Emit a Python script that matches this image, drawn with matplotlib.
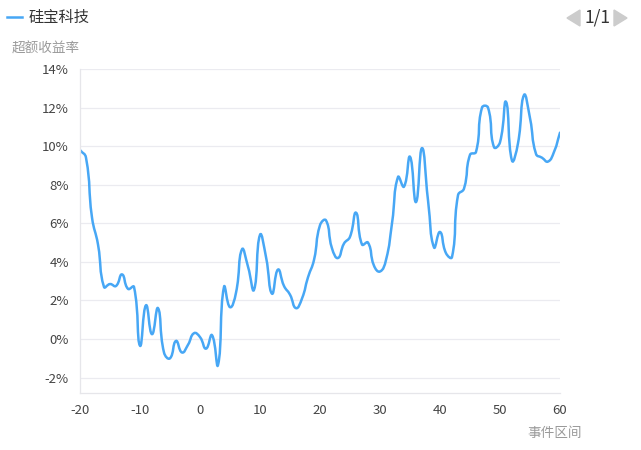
import numpy as np
import matplotlib
matplotlib.use("Agg")
import matplotlib.pyplot as plt
from matplotlib.path import Path
from matplotlib.patches import PathPatch, Polygon

plt.rcParams["font.family"] = ["Noto Sans CJK SC", "DejaVu Sans"]
plt.rcParams["axes.unicode_minus"] = False

# ── Data ─────────────────────────────────────────────────────────────────────
SERIES_NAME = "硅宝科技"
event_day = list(range(-20, 61))
excess_ret = [
    9.8, 9.4, 6.3, 4.9, 2.7, 2.85, 2.75, 3.35, 2.6, 2.7,      # -20 .. -11
    -0.35, 1.75, 0.25, 1.6, -0.7, -1.0, -0.1, -0.7, -0.3, 0.3,  # -10 .. -1
    0.1, -0.5, 0.2, -1.35, 2.7, 1.65, 2.4, 4.65, 3.75, 2.55,  # 0 .. 9
    5.4, 4.25, 2.35, 3.6, 2.75, 2.3, 1.6, 2.1, 3.2, 4.1,      # 10 .. 19
    5.9, 6.15, 4.7, 4.2, 4.95, 5.3, 6.55, 4.9, 5.0, 3.8,      # 20 .. 29
    3.5, 4.1, 6.0, 8.4, 7.9, 9.45, 7.1, 9.9, 7.2, 4.75,       # 30 .. 39
    5.55, 4.45, 4.25, 7.45, 7.8, 9.55, 9.7, 12.0, 12.0, 9.95, # 40 .. 49
    10.2, 12.3, 9.25, 10.15, 12.65, 11.45, 9.6, 9.4, 9.2, 9.7,# 50 .. 59
    10.7,                                                      # 60
]
y_ticks = [-2, 0, 2, 4, 6, 8, 10, 12, 14]
x_ticks = [-20, -10, 0, 10, 20, 30, 40, 50, 60]

LINE_COLOR = "#47a7f5"
GRID_COLOR = "#ebebf0"
TEXT_COLOR = "#444444"
MUTED = "#9a9a9a"

W, H = 641, 450
fig = plt.figure(figsize=(W / 100, H / 100), dpi=100)
ax = fig.add_axes([80 / W, 1 - 393 / H, 480 / W, 324 / H])
ax.set_xlim(-20, 60)
ax.set_ylim(-2.8, 14)


def smooth_path(xs, ys, ax, smooth=0.5):
    # echarts-like bezier smoothing, distances measured in pixel space
    pts = ax.transData.transform(np.column_stack([xs, ys]))
    n = len(pts)
    verts, codes = [tuple(pts[0])], [Path.MOVETO]
    cps = []
    for i in range(n):
        prev = pts[max(i - 1, 0)]
        nxt = pts[min(i + 1, n - 1)]
        v = nxt - prev
        d0 = np.hypot(*(pts[i] - prev))
        d1 = np.hypot(*(nxt - pts[i]))
        s = d0 + d1
        if s == 0:
            cps.append((pts[i], pts[i]))
            continue
        cps.append((pts[i] - v * smooth * d0 / s, pts[i] + v * smooth * d1 / s))
    for i in range(n - 1):
        verts += [tuple(cps[i][1]), tuple(cps[i + 1][0]), tuple(pts[i + 1])]
        codes += [Path.CURVE4] * 3
    return Path(verts, codes)


fig.canvas.draw()
path = smooth_path(event_day, excess_ret, ax)
ax.add_patch(PathPatch(path, transform=None, facecolor="none",
                       edgecolor=LINE_COLOR, lw=1.8, capstyle="round",
                       joinstyle="round", clip_on=True, clip_path=ax.patch))

# ── Axes styling ─────────────────────────────────────────────────────────────
ax.set_yticks(y_ticks)
ax.set_yticklabels([f"{t}%" for t in y_ticks])
ax.set_xticks(x_ticks)
ax.set_xticklabels([str(t) for t in x_ticks])
ax.grid(axis="y", color=GRID_COLOR, lw=0.9)
ax.set_axisbelow(True)
for side in ["top", "right"]:
    ax.spines[side].set_visible(False)
for side in ["left", "bottom"]:
    ax.spines[side].set_color("#e6e6ea")
    ax.spines[side].set_linewidth(0.9)
ax.tick_params(length=0, labelsize=9.5, colors=TEXT_COLOR, pad=8)
ax.tick_params(axis="x", pad=8)

# ── Legend / titles ──────────────────────────────────────────────────────────
fig.add_artist(plt.Line2D([7 / W, 22 / W], [1 - 17 / H, 1 - 17 / H],
                          color=LINE_COLOR, lw=1.8))
fig.text(29 / W, 1 - 17 / H, SERIES_NAME, fontsize=11, color="#333333",
         va="center", ha="left")
fig.text(12 / W, 1 - 49 / H, "超额收益率", fontsize=9.8, color=MUTED,
         va="center", ha="left")
fig.text(582 / W, 1 - 433 / H, "事件区间", fontsize=9.8, color=MUTED,
         va="center", ha="right")

# page indicator
fig.text(597 / W, 1 - 18 / H, "1/1", fontsize=12.5, color="#333333",
         va="center", ha="center")
tri_col = "#cccccc"
fig.add_artist(Polygon([[567 / W, 1 - 18 / H], [580 / W, 1 - 10 / H],
                        [580 / W, 1 - 26 / H]], closed=True,
                       transform=fig.transFigure, color=tri_col))
fig.add_artist(Polygon([[627 / W, 1 - 18 / H], [614 / W, 1 - 10 / H],
                        [614 / W, 1 - 26 / H]], closed=True,
                       transform=fig.transFigure, color=tri_col))

fig.savefig("out.png", dpi=100)
